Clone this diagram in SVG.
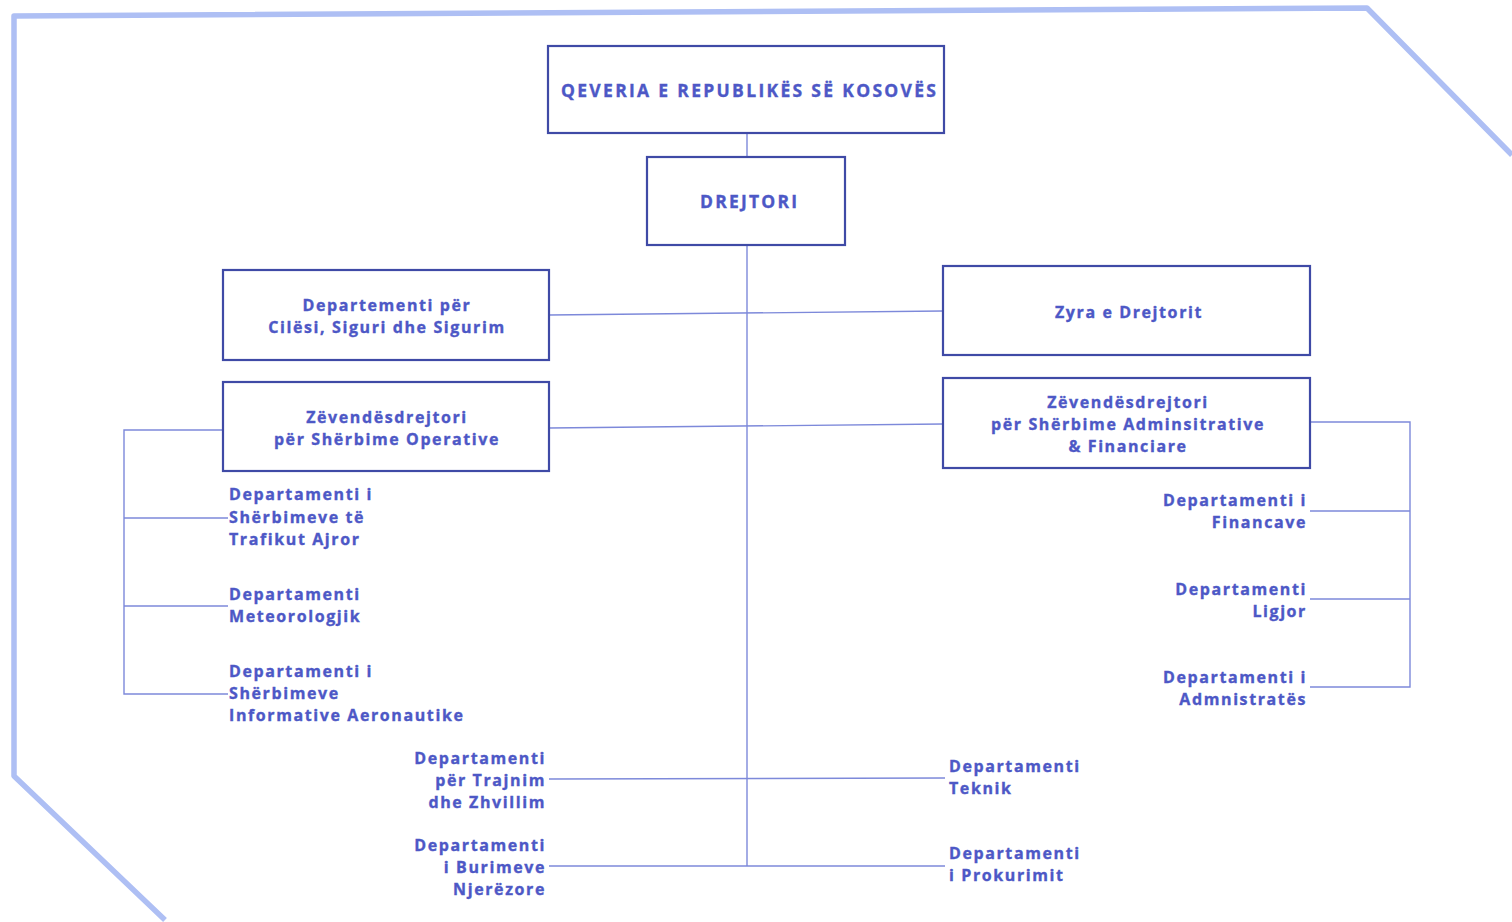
<svg xmlns="http://www.w3.org/2000/svg" width="1512" height="922" viewBox="0 0 1512 922">
<style>
.frame{fill:none;stroke:#aebff4;stroke-width:5.5;stroke-linejoin:round}
.box{fill:#ffffff;stroke:#3f4aa6;stroke-width:2.2}
.ln{fill:none;stroke:#7d89da;stroke-width:1.4}
text{font-family:"Open Sans","Liberation Sans",sans-serif;font-weight:700;font-size:16px;fill:#4d58c6;stroke:#4d58c6;stroke-width:0.35;letter-spacing:1.6px}
.c{text-anchor:middle}
.e{text-anchor:end}
.cap{font-size:17.5px;letter-spacing:0}
</style>
<rect width="1512" height="922" fill="#ffffff"/>
<path class="frame" d="M165,920 L14,776 L14,16 L1367,8 L1512,155"/>
<g id="connectors">
<line class="ln" x1="747" y1="133" x2="747" y2="157"/>
<line class="ln" x1="747" y1="245" x2="747" y2="866"/>
<line class="ln" x1="549" y1="315" x2="943" y2="311"/>
<line class="ln" x1="549" y1="428" x2="943" y2="424"/>
<polyline class="ln" points="223,430 124,430 124,694 228,694"/>
<line class="ln" x1="124" y1="518" x2="228" y2="518"/>
<line class="ln" x1="124" y1="606" x2="228" y2="606"/>
<polyline class="ln" points="1310,422 1410,422 1410,687 1310,687"/>
<line class="ln" x1="1310" y1="511" x2="1410" y2="511"/>
<line class="ln" x1="1310" y1="599" x2="1410" y2="599"/>
<line class="ln" x1="549" y1="779" x2="945" y2="778"/>
<line class="ln" x1="549" y1="866" x2="945" y2="866"/>
</g>
<g id="qeveria"><rect class="box" x="548" y="46" width="396" height="87"/><text class="cap" x="561" y="97" textLength="375" lengthAdjust="spacing">QEVERIA E REPUBLIKËS SË KOSOVËS</text></g>
<g id="drejtori"><rect class="box" x="647" y="157" width="198" height="88"/><text class="cap" x="700" y="208" textLength="97" lengthAdjust="spacing">DREJTORI</text></g>
<g id="cilesi"><rect class="box" x="223" y="270" width="326" height="90"/><text class="c" x="387" y="311">Departementi për</text><text class="c" x="387" y="333">Cilësi, Siguri dhe Sigurim</text></g>
<g id="zv-operative"><rect class="box" x="223" y="382" width="326" height="89"/><text class="c" x="387" y="423">Zëvendësdrejtori</text><text class="c" x="387" y="445">për Shërbime Operative</text></g>
<g id="zyra"><rect class="box" x="943" y="266" width="367" height="89"/><text class="c" x="1129" y="318">Zyra e Drejtorit</text></g>
<g id="zv-admin"><rect class="box" x="943" y="378" width="367" height="90"/><text class="c" x="1128" y="408">Zëvendësdrejtori</text><text class="c" x="1128" y="430">për Shërbime Adminsitrative</text><text class="c" x="1128" y="452">&amp; Financiare</text></g>
<g id="trafik"><text x="229" y="500">Departamenti i</text><text x="229" y="523">Shërbimeve të</text><text x="229" y="545">Trafikut Ajror</text></g>
<g id="meteo"><text x="229" y="600">Departamenti</text><text x="229" y="622">Meteorologjik</text></g>
<g id="informative"><text x="229" y="677">Departamenti i</text><text x="229" y="699">Shërbimeve</text><text x="229" y="721">Informative Aeronautike</text></g>
<g id="financave"><text class="e" x="1307" y="506">Departamenti i</text><text class="e" x="1307" y="528">Financave</text></g>
<g id="ligjor"><text class="e" x="1307" y="595">Departamenti</text><text class="e" x="1307" y="617">Ligjor</text></g>
<g id="administrates"><text class="e" x="1307" y="683">Departamenti i</text><text class="e" x="1307" y="705">Admnistratës</text></g>
<g id="trajnim"><text class="e" x="546" y="764">Departamenti</text><text class="e" x="546" y="786">për Trajnim</text><text class="e" x="546" y="808">dhe Zhvillim</text></g>
<g id="burimeve"><text class="e" x="546" y="851">Departamenti</text><text class="e" x="546" y="873">i Burimeve</text><text class="e" x="546" y="895">Njerëzore</text></g>
<g id="teknik"><text x="949" y="772">Departamenti</text><text x="949" y="794">Teknik</text></g>
<g id="prokurimit"><text x="949" y="859">Departamenti</text><text x="949" y="881">i Prokurimit</text></g>
</svg>
